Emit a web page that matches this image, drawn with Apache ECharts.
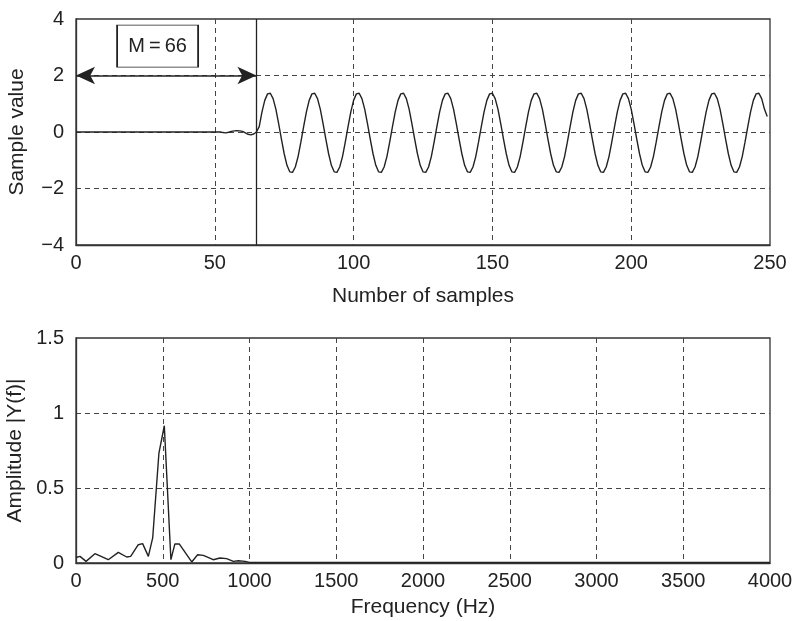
<!DOCTYPE html>
<html>
<head>
<meta charset="utf-8">
<script src="https://cdn.jsdelivr.net/npm/echarts@6/dist/echarts.min.js"></script>
<style>
html,body{margin:0;padding:0;background:#fff;}
#chart{width:792px;height:621px;}
</style>
</head>
<body>
<div id="chart"></div>
<script>
// ---- Top plot: filter output samples (index = sample number) ----
var sampleValues = [
0,0,0,0,0,0,0,0,0,0, 0,0,0,0,0,0,0,0,0,0,
0,0,0,0,0,0,0,0,0,0, 0,0,0,0,0,0,0,0,0,0,
0,0,0,0,0,0,0,0,0,0, 0,0,0,
-0.02,-0.03,-0.01,0.02,0.04,0.05,0.04,0.02,-0.03,-0.08,-0.10,-0.07,0.00,
0.19,0.71,1.12,1.35,
1.37,1.18,0.81,0.30,-0.25,-0.77,-1.18,-1.41,-1.43,-1.24,-0.87,-0.36,0.19,0.71,1.12,1.35,
1.37,1.18,0.81,0.30,-0.25,-0.77,-1.18,-1.41,-1.43,-1.24,-0.87,-0.36,0.19,0.71,1.12,1.35,
1.37,1.18,0.81,0.30,-0.25,-0.77,-1.18,-1.41,-1.43,-1.24,-0.87,-0.36,0.19,0.71,1.12,1.35,
1.37,1.18,0.81,0.30,-0.25,-0.77,-1.18,-1.41,-1.43,-1.24,-0.87,-0.36,0.19,0.71,1.12,1.35,
1.37,1.18,0.81,0.30,-0.25,-0.77,-1.18,-1.41,-1.43,-1.24,-0.87,-0.36,0.19,0.71,1.12,1.35,
1.37,1.18,0.81,0.30,-0.25,-0.77,-1.18,-1.41,-1.43,-1.24,-0.87,-0.36,0.19,0.71,1.12,1.35,
1.37,1.18,0.81,0.30,-0.25,-0.77,-1.18,-1.41,-1.43,-1.24,-0.87,-0.36,0.19,0.71,1.12,1.35,
1.37,1.18,0.81,0.30,-0.25,-0.77,-1.18,-1.41,-1.43,-1.24,-0.87,-0.36,0.19,0.71,1.12,1.35,
1.37,1.18,0.81,0.30,-0.25,-0.77,-1.18,-1.41,-1.43,-1.24,-0.87,-0.36,0.19,0.71,1.12,1.35,
1.37,1.18,0.81,0.30,-0.25,-0.77,-1.18,-1.41,-1.43,-1.24,-0.87,-0.36,0.19,0.71,1.12,1.35,
1.37,1.18,0.81,0.30,-0.25,-0.77,-1.18,-1.41,-1.43,-1.24,-0.87,-0.36,0.19,0.71,1.12,1.35,
1.37,1.18,0.81,0.55
];
var delayM = 65;            // position of the delay marker (samples)
var delayLabel = 'M\u2009=\u200966';
var arrowLevel = 2;
var labelPos = [29.4, 3.04];

var topXTicks = [0, 50, 100, 150, 200, 250];
var topYTicks = [-4, -2, 0, 2, 4];

// ---- Bottom plot: amplitude spectrum ----
var freqHz = [0,23,58,109,186,244,292,315,359,384,417,442,478,509,547,570,595,667,701,734,791,830,868,907,936,974,1000,1500,2000,2500,3000,3500,4000];
var amplitude = [0.037,0.044,0.011,0.062,0.022,0.071,0.040,0.044,0.122,0.129,0.044,0.167,0.733,0.915,0.022,0.127,0.127,0.007,0.055,0.051,0.022,0.033,0.029,0.011,0.015,0.011,0.004,0.004,0.004,0.004,0.004,0.004,0.004];

var botXTicks = [0,500,1000,1500,2000,2500,3000,3500,4000];
var botYTicks = [0,0.5,1,1.5];

var topData = sampleValues.map(function (v, i) { return [i, v]; });
var botData = freqHz.map(function (f, i) { return [f, amplitude[i]]; });

var FONT = '"Liberation Sans", Arial, Helvetica, sans-serif';
var INK = '#222';
var gridLine = { show: true, showMinLine: false, showMaxLine: false, lineStyle: { color: '#444', type: [5, 4], width: 1 } };
function fmt(v) { return v < 0 ? '\u2212' + (-v) : String(v); }
var axisLabel = { color: INK, fontSize: 20, fontFamily: FONT, formatter: fmt };
var nameStyle = { color: INK, fontSize: 21, fontFamily: FONT };
var axisLine = { show: true, onZero: false, lineStyle: { color: '#333', width: 1.3 } };

var chart = echarts.init(document.getElementById('chart'), null, { renderer: 'canvas' });
chart.setOption({
  animation: false,
  backgroundColor: '#fff',
  grid: [
    { left: 76, top: 19, width: 694, height: 226, show: true, borderColor: '#333', borderWidth: 1.3, backgroundColor: 'transparent', containLabel: false, outerBoundsMode: 'none' },
    { left: 76, top: 338, width: 694, height: 225, show: true, borderColor: '#333', borderWidth: 1.3, backgroundColor: 'transparent', containLabel: false, outerBoundsMode: 'none' }
  ],
  xAxis: [
    { gridIndex: 0, type: 'value', min: topXTicks[0], max: topXTicks[topXTicks.length-1], interval: 50,
      name: 'Number of samples', nameLocation: 'middle', nameGap: 41, nameTextStyle: nameStyle,
      axisLine: axisLine, axisTick: { show: false }, axisLabel: Object.assign({ margin: 8 }, axisLabel), splitLine: gridLine },
    { gridIndex: 1, type: 'value', min: botXTicks[0], max: botXTicks[botXTicks.length-1], interval: 500,
      name: 'Frequency (Hz)', nameLocation: 'middle', nameGap: 34, nameTextStyle: nameStyle,
      axisLine: axisLine, axisTick: { show: false }, axisLabel: Object.assign({ margin: 8 }, axisLabel), splitLine: gridLine }
  ],
  yAxis: [
    { gridIndex: 0, type: 'value', min: topYTicks[0], max: topYTicks[topYTicks.length-1], interval: 2,
      name: 'Sample value', nameLocation: 'middle', nameGap: 48, nameTextStyle: nameStyle,
      axisLine: axisLine, axisTick: { show: false }, axisLabel: Object.assign({ margin: 12 }, axisLabel), splitLine: gridLine },
    { gridIndex: 1, type: 'value', min: botYTicks[0], max: botYTicks[botYTicks.length-1], interval: 0.5,
      name: 'Amplitude |Y(f)|', nameLocation: 'middle', nameGap: 48, nameTextStyle: nameStyle,
      axisLine: axisLine, axisTick: { show: false }, axisLabel: Object.assign({ margin: 12 }, axisLabel), splitLine: gridLine }
  ],
  series: [
    { type: 'line', xAxisIndex: 0, yAxisIndex: 0, data: topData, symbol: 'none', smooth: false,
      lineStyle: { color: INK, width: 1.4 }, z: 5,
      markLine: {
        silent: true, animation: false, symbol: 'none',
        label: { show: false },
        data: [
          [ { coord: [delayM, topYTicks[topYTicks.length-1]], lineStyle: { color: INK, width: 1.3, type: 'solid' } },
            { coord: [delayM, topYTicks[0]] } ],
          [ { coord: [0, arrowLevel], symbol: 'arrow', symbolSize: [13, 19], lineStyle: { color: INK, width: 1.6, type: 'solid' } },
            { coord: [delayM, arrowLevel], symbol: 'arrow', symbolSize: [13, 19] } ]
        ]
      },
      markPoint: {
        silent: true, animation: false,
        data: [ { coord: labelPos, symbol: 'rect', symbolSize: [81, 42],
          itemStyle: { color: '#fff', borderColor: INK, borderWidth: 1.3 },
          label: { show: true, position: 'inside', formatter: delayLabel, color: INK, fontSize: 20, fontFamily: FONT } } ]
      }
    },
    { type: 'line', xAxisIndex: 1, yAxisIndex: 1, data: botData, symbol: 'none', smooth: false,
      lineStyle: { color: INK, width: 1.4 }, z: 5 }
  ]
});
</script>
</body>
</html>
